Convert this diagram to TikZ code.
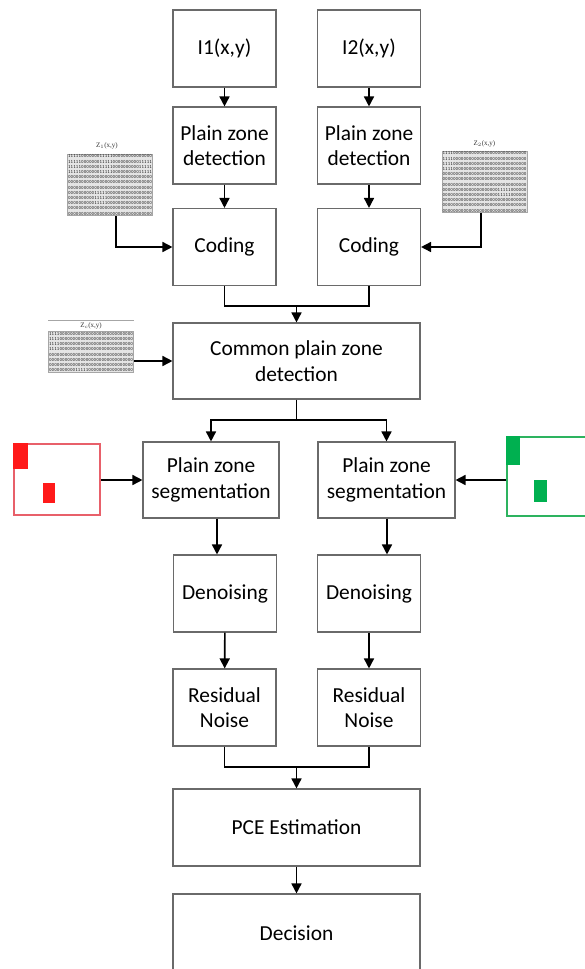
\documentclass[tikz,border=0pt]{standalone}
\usepackage{fontspec}
\setmainfont{Carlito}
\newfontfamily\lblfont{Liberation Serif}
\usetikzlibrary{arrows.meta,calc}
\definecolor{boxline}{HTML}{6A6A6A}
\definecolor{redfill}{HTML}{FF1A1A}
\definecolor{redline}{HTML}{E8606A}
\definecolor{greenfill}{HTML}{00B050}
\definecolor{greenline}{HTML}{2DB35F}
\newcommand{\rowA}{11111000000011111000000000000000}
\newcommand{\rowB}{11111000000011111000000000011111}
\newcommand{\rowZ}{00000000000000000000000000000000}
\newcommand{\rowM}{00000000001111100000000000000000}
\newcommand{\rowN}{00000000000000000000011111000000}
\newcommand{\rowC}{11110000000000000000000000000000}
\begin{document}
\begin{tikzpicture}[x=1pt,y=-1pt,
  blk/.style={draw=boxline, line width=1.1pt, fill=white, align=center,
    font=\fontsize{21.4}{25.7}\selectfont, inner sep=0pt},
  small/.style={blk, minimum width=103pt, minimum height=77pt},
  wide/.style={blk, minimum width=247pt, minimum height=77pt},
  segbox/.style={blk, minimum width=136pt, minimum height=76pt},
  arr/.style={-{Triangle[length=10pt,width=10pt]}, line width=1.6pt},
  ln/.style={line width=1.6pt},
  matbox/.style={draw=gray!70, fill=gray!20, line width=0.6pt, inner sep=0.6pt,
    align=left, text=black!85, font=\fontsize{5}{5.2}\selectfont\ttfamily\bfseries},
  lbl/.style={font=\fontsize{7}{8}\selectfont\lblfont, inner sep=0pt, text=black!80}
]
\useasboundingbox (0,0) rectangle (584,969);
\fill[white] (0,0) rectangle (584,969);

% main boxes
\node[small] (i1) at (224.5,48.5) {I1(x,y)};
\node[small] (i2) at (369,48.5) {I2(x,y)};
\node[small] (pz1) at (224.5,145.5) {Plain zone\\detection};
\node[small] (pz2) at (369,145.5) {Plain zone\\detection};
\node[small] (cod1) at (224.5,247) {Coding};
\node[small] (cod2) at (369,247) {Coding};
\node[wide, minimum height=76pt] (common) at (296.5,361) {Common plain zone\\detection};
\node[segbox] (seg1) at (211,480) {Plain zone\\segmentation};
\node[segbox, minimum width=137pt] (seg2) at (386.5,480) {Plain zone\\segmentation};
\node[small] (den1) at (225,593.5) {Denoising};
\node[small] (den2) at (369,593.5) {Denoising};
\node[small] (res1) at (224.5,707.5) {Residual\\Noise};
\node[small] (res2) at (369,707.5) {Residual\\Noise};
\node[wide] (pce) at (296.5,827.5) {PCE Estimation};
\node[wide, minimum height=78pt] (dec) at (296.5,933) {Decision};

% matrices
\node[matbox] (z1) at (110,185) {\rowA\\\rowB\\\rowB\\\rowB\\\rowZ\\\rowZ\\\rowZ\\\rowM\\\rowM\\\rowM\\\rowZ\\\rowZ};
\node[lbl] (z1l) at (107,146) {Z$_1$(x,y)};
\node[matbox] (z2) at (484.5,182) {\rowC\\\rowC\\\rowC\\\rowC\\\rowZ\\\rowZ\\\rowZ\\\rowN\\\rowN\\\rowZ\\\rowZ\\\rowZ};
\node[lbl] (z2l) at (484.5,144) {Z$_2$(x,y)};
\node[matbox] (zc) at (91,352) {\rowC\\\rowC\\\rowC\\\rowC\\\rowZ\\\rowZ\\\rowZ\\\rowM};
\node[lbl] (zcl) at (91,326) {Z$_c$(x,y)};
\coordinate (zcla) at (48,320);
\coordinate (zclb) at (134,320);
\draw[gray!70, line width=0.5pt] (zcla) -- (zclb);

% red and green masks
\node[draw=redline, line width=1.3pt, minimum width=86pt, minimum height=71pt, inner sep=0pt] (redbox) at (57,479.5) {};
\fill[redfill] (redbox.north west) rectangle ++(15,26);
\fill[redfill] (43,483) rectangle (55,503);
\node[draw=greenline, line width=1.3pt, minimum width=93pt, minimum height=79pt, inner sep=0pt] (greenbox) at (553.5,476.5) {};
\fill[greenfill] (greenbox.north west) rectangle ++(14,29);
\fill[greenfill] (534,480) rectangle (547,502);

% connectors
\draw[arr] (i1) -- (pz1);
\draw[arr] (i2) -- (pz2);
\draw[arr] (pz1) -- (cod1);
\draw[arr] (pz2) -- (cod2);
\draw[arr] ([xshift=6pt]z1.south) |- (cod1.west);
\draw[arr] ([xshift=-3.5pt]z2.south) |- (cod2.east);
\coordinate (m1) at (296.5,306);
\draw[ln] (cod1.south) |- (m1) -| (cod2.south);
\draw[arr] (m1) -- (common.north);
\draw[arr] (zc.east |- common.west) -- (common.west);
\coordinate (m2) at (296.5,420);
\draw[ln] (common.south) -- (m2);
\draw[arr] (m2) -| (seg1.north);
\draw[arr] (m2) -| (seg2.north);
\draw[arr] (redbox.east |- seg1.west) -- (seg1.west);
\draw[arr] (greenbox.west |- seg2.east) -- (seg2.east);
\draw[arr] ([xshift=6pt]seg1.south) -- ([xshift=-8pt]den1.north);
\draw[arr] ([xshift=0.5pt]seg2.south) -- ([xshift=18pt]den2.north);
\draw[arr] (den1) -- (res1);
\draw[arr] (den2) -- (res2);
\coordinate (m3) at (296.5,767);
\draw[ln] (res1.south) |- (m3) -| (res2.south);
\draw[arr] (m3) -- (pce.north);
\draw[arr] (pce) -- (dec);
\end{tikzpicture}
\end{document}
